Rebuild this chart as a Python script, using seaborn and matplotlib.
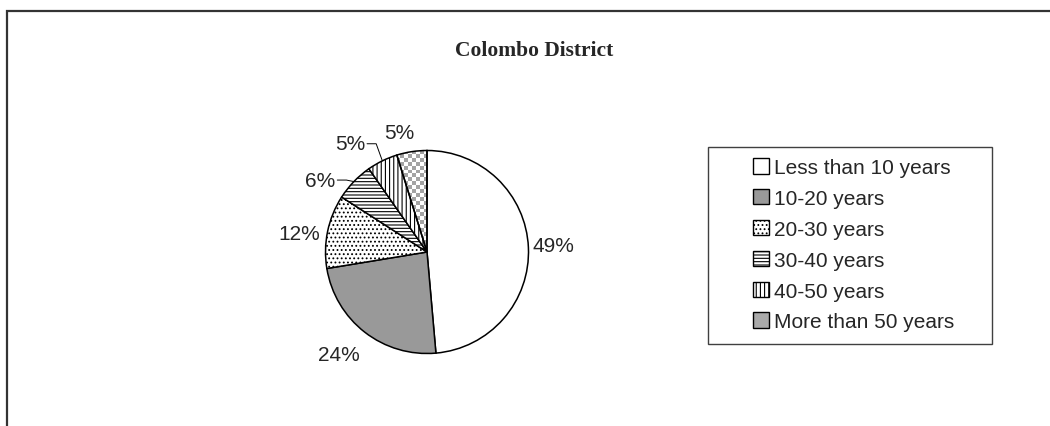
import numpy as np
import matplotlib as mpl
import matplotlib.pyplot as plt
import seaborn as sns
from matplotlib.patches import Patch, Rectangle
from matplotlib.colors import ListedColormap

# data
categories = ["Less than 10 years", "10-20 years", "20-30 years",
              "30-40 years", "40-50 years", "More than 50 years"]
shares = [48.6, 23.8, 11.7, 6.2, 4.9, 4.8]
pct_labels = ["49%", "24%", "12%", "6%", "5%", "5%"]
title = "Colombo District"

# styling
sns.set_style("white")
mpl.rcParams["font.family"] = ["Liberation Sans", "DejaVu Sans"]
mpl.rcParams["hatch.linewidth"] = 0.8

fills = ["white", "#999999", "white", "white", "white", "none"]
hatches = [None, None, "....", "-----", "||||", None]
legend_fills = ["white", "#999999", "white", "white", "white", "#aaaaaa"]
label_dist = [1.25, 1.33, 1.27, 1.27, 1.31, 1.21]
label_nudge = [0.3, -3.0, 3.3, 10.0, 9.4, 4.4]
leader = [False, False, False, True, True, False]

W, H = 1050, 427
fig = plt.figure(figsize=(W / 100, H / 100), dpi=100)

# pie axes: centre at (427, 253) px, radius ~101.5 px
half = 1.7 * 101.5
cx, cy = 427, H - 253
ax = fig.add_axes([(cx - half) / W, (cy - half) / H, 2 * half / W, 2 * half / H])

wedges, _ = ax.pie(shares, colors=fills, startangle=90, counterclock=False,
                   wedgeprops=dict(edgecolor="black", linewidth=1.1))
for w, h in zip(wedges, hatches):
    if h:
        w.set_hatch(h)

# checkerboard fill for the last slice
n = 52
yy, xx = np.indices((n, n))
checker = (xx + yy) % 2
im = ax.imshow(checker, cmap=ListedColormap(["#a3a3a3", "white"]),
               extent=(-1, 1, -1, 1), interpolation="nearest", zorder=0.5)
im.set_clip_path(wedges[-1])

ax.set_xlim(-1.7, 1.7)
ax.set_ylim(-1.7, 1.7)
ax.set_aspect("equal")
ax.axis("off")

# percentage labels
for i, w in enumerate(wedges):
    mid = np.deg2rad((w.theta1 + w.theta2) / 2 + label_nudge[i])
    x, y = label_dist[i] * np.cos(mid), label_dist[i] * np.sin(mid)
    ax.text(x, y, pct_labels[i], ha="center", va="center", fontsize=15)
    if leader[i]:
        edge = np.deg2rad((w.theta1 + w.theta2) / 2)
        ex, ey = np.cos(edge), np.sin(edge)
        sx = x + 0.17
        ax.plot([sx, sx + 0.09, ex], [y, y, ey], color="black", lw=0.7)

fig.text(534 / W, 1 - 51 / H, title, ha="center", va="center",
         family="Liberation Serif", weight="bold", fontsize=15.5)

# legend
handles = [Patch(facecolor=f, edgecolor="black", hatch=h, linewidth=1)
           for f, h in zip(legend_fills, hatches)]
fig.legend(handles, categories, loc="upper left",
           bbox_to_anchor=(753 / W, 1 - 159 / H), frameon=False,
           fontsize=15, borderpad=0, borderaxespad=0,
           handlelength=0.77, handleheight=0.77,
           handletextpad=0.25, labelspacing=0.57)
fig.add_artist(Rectangle((708 / W, 1 - 345 / H), (992 - 708) / W, (345 - 148) / H,
                         transform=fig.transFigure, fill=False,
                         edgecolor="#404040", linewidth=1))

# outer chart border (runs off right and bottom)
fig.add_artist(Rectangle((6.5 / W, -0.1), 1.2, 1.1 - 12 / H,
                         transform=fig.transFigure, fill=False,
                         edgecolor="#333333", linewidth=1.6))

fig.savefig("out.png", dpi=100)
